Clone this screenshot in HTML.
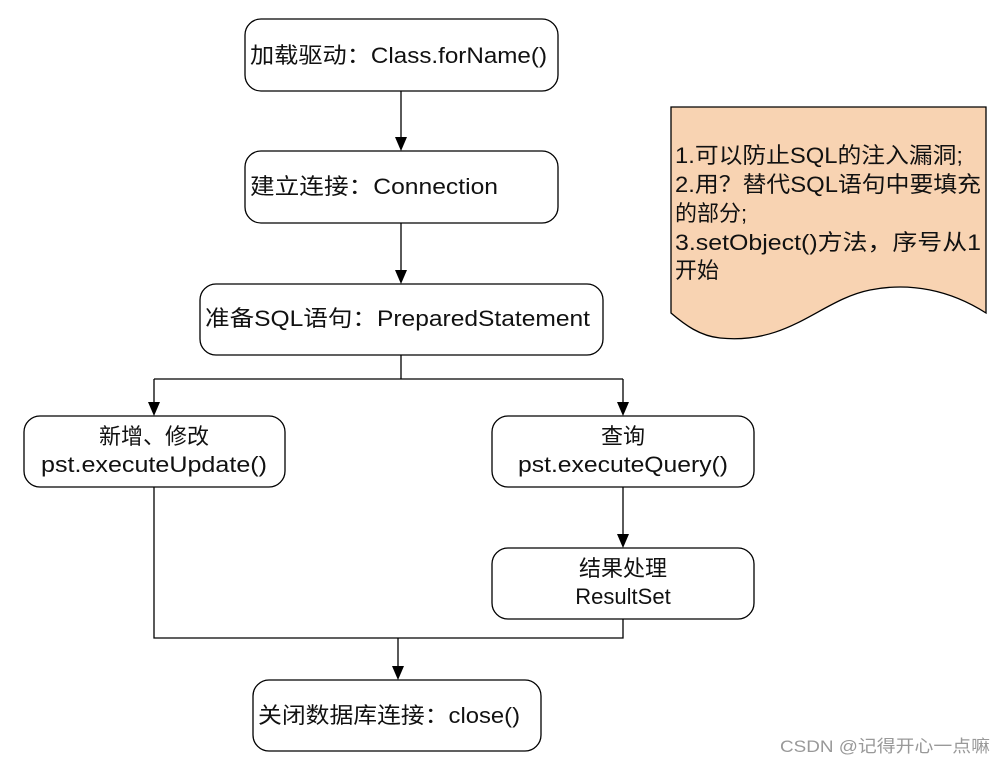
<!DOCTYPE html>
<html><head><meta charset="utf-8"><style>
html,body{margin:0;padding:0;background:#fff;}
svg{display:block;}
text{font-family:"Liberation Sans","Noto Sans CJK SC",sans-serif;font-size:22px;fill:#111;}
</style></head><body>
<svg width="1006" height="764" viewBox="0 0 1006 764" xmlns="http://www.w3.org/2000/svg">
<defs><marker id="a" markerWidth="12" markerHeight="14" refX="6" refY="14" orient="auto-start-reverse" markerUnits="userSpaceOnUse"><path d="M0,0 L12,0 L6,14 z" fill="#000" transform="rotate(0)"/></marker></defs>
<g fill="none" stroke="#000" stroke-width="1.3">
<rect x="245" y="19" width="313" height="72" rx="16"/>
<rect x="245" y="151" width="313" height="72" rx="16"/>
<rect x="200" y="284" width="403" height="71" rx="16"/>
<rect x="24" y="416" width="261" height="71" rx="16"/>
<rect x="492" y="416" width="262" height="71" rx="16"/>
<rect x="492" y="548" width="262" height="71" rx="16"/>
<rect x="253" y="680" width="288" height="71" rx="16"/>
<path d="M401 91 V137"/><path d="M401 223 V270"/>
<path d="M401 355 V379 M154 379 H623 M154 379 V402 M623 379 V402"/>
<path d="M623 487 V534"/>
<path d="M154 487 V638 H623 V619 M398 638 V666"/>
</g>
<g fill="#000">
<path d="M395 137 L407 137 L401 151z"/>
<path d="M395 270 L407 270 L401 284z"/>
<path d="M148 402 L160 402 L154 416z"/>
<path d="M617 402 L629 402 L623 416z"/>
<path d="M617 534 L629 534 L623 548z"/>
<path d="M392 666 L404 666 L398 680z"/>
</g>
<path d="M671 107 H986 V313 C950 290 910 282 870 290 C820 300 790 345 720 338 C700 336 685 325 671 313 Z" fill="#f8d3b2" stroke="#000" stroke-width="1.3"/>
<text x="250" y="63" textLength="297" lengthAdjust="spacingAndGlyphs">加载驱动：Class.forName()</text>
<text x="250" y="194" textLength="248" lengthAdjust="spacingAndGlyphs">建立连接：Connection</text>
<text x="205" y="326" textLength="385" lengthAdjust="spacingAndGlyphs">准备SQL语句：PreparedStatement</text>
<text x="154" y="444" text-anchor="middle">新增、修改</text>
<text x="154" y="472" text-anchor="middle" textLength="226" lengthAdjust="spacingAndGlyphs">pst.executeUpdate()</text>
<text x="623" y="444" text-anchor="middle">查询</text>
<text x="623" y="472" text-anchor="middle" textLength="210" lengthAdjust="spacingAndGlyphs">pst.executeQuery()</text>
<text x="623" y="576" text-anchor="middle">结果处理</text>
<text x="623" y="604" text-anchor="middle">ResultSet</text>
<text x="258" y="723" textLength="262" lengthAdjust="spacingAndGlyphs">关闭数据库连接：close()</text>
<text x="675" y="163" textLength="288" lengthAdjust="spacingAndGlyphs">1.可以防止SQL的注入漏洞;</text>
<text x="675" y="192" textLength="306" lengthAdjust="spacingAndGlyphs">2.用？替代SQL语句中要填充</text>
<text x="675" y="221">的部分;</text>
<text x="675" y="250" textLength="306" lengthAdjust="spacingAndGlyphs">3.setObject()方法，序号从1</text>
<text x="675" y="278">开始</text>
<text x="780" y="752" style="font-size:17px;fill:#999" textLength="210" lengthAdjust="spacingAndGlyphs">CSDN @记得开心一点嘛</text>
</svg>
</body></html>
